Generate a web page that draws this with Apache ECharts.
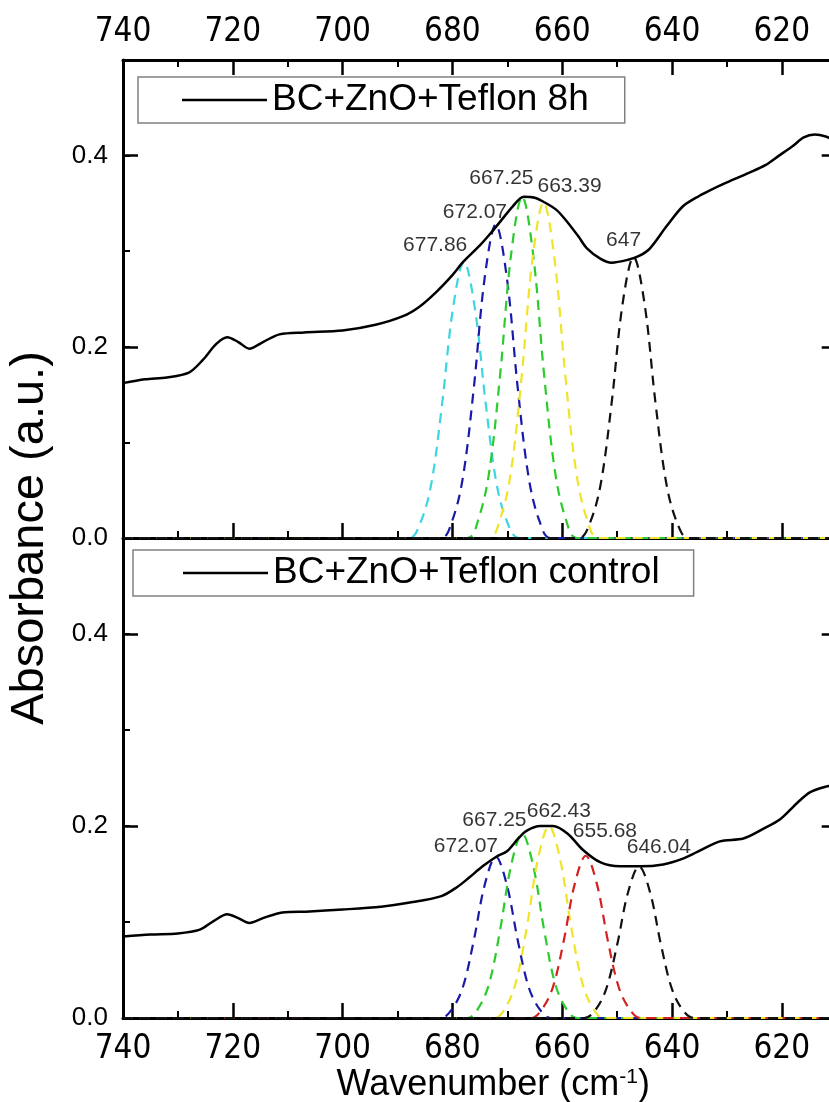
<!DOCTYPE html>
<html>
<head>
<meta charset="utf-8">
<script src="https://cdn.jsdelivr.net/npm/echarts@6/dist/echarts.min.js"></script>
<style>
  html, body { margin: 0; padding: 0; overflow: hidden; background: #fff; }
  #chart { width: 900px; height: 1102px; }
</style>
</head>
<body>
<div id="chart"></div>
<script>
// measured spectra [wavenumber, absorbance]
const spectrum8h = [
  [740,0.162],[736,0.166],[732,0.168],[728,0.173],[725.5,0.186],[723,0.203],[721,0.210],[719,0.205],
  [717,0.198],[714.5,0.205],[711.5,0.213],[707,0.215],[700,0.217],[694,0.223],[689,0.232],[686,0.242],
  [683,0.257],[680,0.275],[678,0.289],[675,0.306],[673,0.319],[671,0.333],[669,0.347],[667,0.357],
  [665,0.356],[663.5,0.352],[661,0.343],[659,0.330],[657,0.315],[655.5,0.303],[653,0.292],[651,0.288],
  [648,0.291],[646,0.295],[644,0.303],[641,0.326],[638,0.347],[635,0.358],[633,0.364],[630,0.372],
  [626,0.382],[623,0.390],[620.5,0.400],[618,0.410],[616,0.419],[614,0.422],[612,0.420],[610,0.415]
];
const spectrumControl = [
  [740,0.085],[735,0.087],[730,0.088],[726,0.092],[723.5,0.101],[721,0.108],[719,0.104],[717,0.099],
  [714.5,0.104],[711,0.110],[706,0.111],[700,0.113],[693,0.116],[688,0.120],[682,0.127],[679,0.137],
  [677,0.146],[674.5,0.158],[672,0.168],[670,0.174],[668,0.187],[666.5,0.195],[664,0.200],[661.7,0.200],
  [659,0.192],[656.2,0.175],[653,0.162],[649.5,0.158],[645.8,0.158],[641.6,0.160],[638,0.166],[635.4,0.173],
  [631.3,0.184],[627,0.187],[623.4,0.197],[620.3,0.207],[617.2,0.224],[614.9,0.235],[612,0.241],[610,0.243]
];

// fitted component bands (8h)
const fit8h_677 = [[740,0],[687.9,0],[685.9,0.015],[683.9,0.055],[681.9,0.139],[679.9,0.240],[677.9,0.289],
  [675.9,0.240],[673.9,0.139],[671.9,0.055],[669.9,0.015],[667.9,0],[610,0]];
const fit8h_672 = [[740,0],[682.1,0],[680.1,0.017],[678.1,0.063],[676.1,0.157],[674.1,0.273],[672.1,0.328],
  [670.1,0.273],[668.1,0.157],[666.1,0.063],[664.1,0.017],[662.1,0],[610,0]];
const fit8h_667 = [[740,0],[677.3,0],[675.3,0.019],[673.3,0.069],[671.3,0.171],[669.3,0.297],[667.3,0.357],
  [665.3,0.297],[663.3,0.171],[661.3,0.069],[659.3,0.019],[657.3,0],[610,0]];
const fit8h_663 = [[740,0],[673.4,0],[671.4,0.018],[669.4,0.067],[667.4,0.168],[665.4,0.292],[663.4,0.351],
  [661.4,0.292],[659.4,0.168],[657.4,0.067],[655.4,0.018],[653.4,0],[610,0]];
const fit8h_647 = [[740,0],[657,0],[655,0.015],[653,0.056],[651,0.141],[649,0.245],[647,0.294],
  [645,0.245],[643,0.141],[641,0.056],[639,0.015],[637,0],[610,0]];

// fitted component bands (control)
const fitCtl_672 = [[740,0],[682.1,0],[680.1,0.009],[678.1,0.032],[676.1,0.081],[674.1,0.139],[672.1,0.168],
  [670.1,0.139],[668.1,0.081],[666.1,0.032],[664.1,0.009],[662.1,0],[610,0]];
const fitCtl_667 = [[740,0],[677.3,0],[675.3,0.010],[673.3,0.036],[671.3,0.092],[669.3,0.159],[667.3,0.192],
  [665.3,0.159],[663.3,0.092],[661.3,0.036],[659.3,0.010],[657.3,0],[610,0]];
const fitCtl_662 = [[740,0],[672.4,0],[670.4,0.010],[668.4,0.038],[666.4,0.096],[664.4,0.166],[662.4,0.200],
  [660.4,0.166],[658.4,0.096],[656.4,0.038],[654.4,0.010],[652.4,0],[610,0]];
const fitCtl_655 = [[740,0],[665.7,0],[663.7,0.009],[661.7,0.032],[659.7,0.081],[657.7,0.140],[655.7,0.169],
  [653.7,0.140],[651.7,0.081],[649.7,0.032],[647.7,0.009],[645.7,0],[610,0]];
const fitCtl_646 = [[740,0],[656,0],[654,0.008],[652,0.030],[650,0.076],[648,0.131],[646,0.158],
  [644,0.131],[642,0.076],[640,0.030],[638,0.008],[636,0],[610,0]];

// peak annotations
const peaks8h = [677.86, 672.07, 667.25, 663.39, 647];
const heights8h = [0.289, 0.328, 0.357, 0.351, 0.294];
const labels8h = ['677.86', '672.07', '667.25', '663.39', '647'];
const peaksCtl = [672.07, 667.25, 662.43, 655.68, 646.04];
const heightsCtl = [0.168, 0.192, 0.200, 0.169, 0.158];
const labelsCtl = ['672.07', '667.25', '662.43', '655.68', '646.04'];

const FONT = "'Liberation Sans', Arial, sans-serif";
const NARROW = "'Liberation Sans Narrow', 'Arial Narrow', 'DejaVu Sans Condensed', sans-serif";
const C = { cyan: '#3cd6e0', blue: '#1a1aa8', green: '#2ccc2c', yellow: '#f0e428', red: '#d42020', black: '#111' };

// label offsets (px) relative to each peak top
const offsets8h = [[-29, -17], [-21, -12], [-21, -19], [26, -16], [-10, -17]];
const offsetsCtl = [[-30, -11], [-28, -13], [10, -15], [19, -25], [20, -19]];

const chart = echarts.init(document.getElementById('chart'));

function xAxis(gridIndex, position, showLabel) {
  return {
    type: 'value', gridIndex, position, min: 600, max: 740, interval: 20, inverse: true,
    axisLine: { show: true, onZero: false, lineStyle: { color: '#000', width: 3 } },
    axisTick: { show: true, inside: true, length: 15, lineStyle: { color: '#000', width: 2.5 } },
    minorTick: { show: true, splitNumber: 2, length: 7, lineStyle: { color: '#000', width: 2 } },
    axisLabel: { show: showLabel, margin: position === 'top' ? 11 : 15, fontSize: 33, fontFamily: NARROW, color: '#000' },
    splitLine: { show: false }
  };
}

function yAxis(gridIndex, position, showLabel, minor) {
  return {
    type: 'value', gridIndex, position, min: 0, max: 0.5,
    interval: minor ? 0.1 : 0.2,
    offset: position === 'right' ? -54.9 : 0,
    axisLine: { show: !minor, onZero: false, lineStyle: { color: '#000', width: 3 } },
    axisTick: { show: true, inside: true, length: minor ? 7 : 15, lineStyle: { color: '#000', width: minor ? 2 : 2.5 } },
    axisLabel: {
      show: showLabel, showMaxLabel: false, margin: 15, fontSize: 26, fontFamily: FONT, color: '#000',
      formatter: v => v.toFixed(1)
    },
    splitLine: { show: false }
  };
}

function fit(data, color, xi, yi) {
  return {
    type: 'line', xAxisIndex: xi, yAxisIndex: yi, data, symbol: 'none', smooth: 0.35, silent: true, z: 2,
    lineStyle: { color, width: 2.2, type: [10, 7] }
  };
}

function peakLabels(centers, heights, texts, offs, xi, yi) {
  return {
    type: 'scatter', xAxisIndex: xi, yAxisIndex: yi, symbolSize: 0, silent: true, z: 10,
    itemStyle: { color: '#000' },
    data: centers.map((c, i) => ({ value: [c, heights[i]], label: { offset: offs[i] } })),
    label: {
      show: true, position: 'inside', fontSize: 21, fontFamily: FONT, color: '#000',
      textBorderWidth: 0, textShadowBlur: 0,
      formatter: p => texts[p.dataIndex]
    }
  };
}

const legendBase = {
  icon: 'rect', itemWidth: 85, itemHeight: 2.5, itemGap: 0, selectedMode: false,
  borderColor: '#808080', borderWidth: 1.5, backgroundColor: '#fff',
  textStyle: { fontSize: 37, lineHeight: 36, fontFamily: FONT, color: '#000' }
};

const option = {
  backgroundColor: '#fff',
  animation: false,
  grid: [
    { left: 123, top: 60, width: 768.6, height: 478, outerBoundsMode: 'none', containLabel: false },
    { left: 123, top: 538, width: 768.6, height: 480, outerBoundsMode: 'none', containLabel: false }
  ],
  legend: [
    Object.assign({}, legendBase, { data: ['BC+ZnO+Teflon 8h'], left: 138, top: 77, padding: [4.5, 36, 4.5, 44] }),
    Object.assign({}, legendBase, { data: ['BC+ZnO+Teflon control'], left: 133, top: 550, padding: [4.5, 34, 4.5, 50] })
  ],
  xAxis: [
    xAxis(0, 'top', true),
    xAxis(0, 'bottom', false),
    Object.assign(xAxis(1, 'bottom', true), {
      name: 'Wavenumber (cm{sup|-1})',
      nameLocation: 'middle', nameGap: 49,
      nameTextStyle: {
        fontSize: 36, fontFamily: FONT, color: '#000', padding: [0, 28, 0, 0], verticalAlign: 'top',
        rich: { sup: { fontSize: 21, fontFamily: FONT, color: '#000', verticalAlign: 'top', padding: [0, 0, 15, 0] } }
      }
    })
  ],
  yAxis: [
    yAxis(0, 'left', true, false), yAxis(0, 'left', false, true),
    yAxis(0, 'right', false, false), yAxis(0, 'right', false, true),
    yAxis(1, 'left', true, false), yAxis(1, 'left', false, true),
    yAxis(1, 'right', false, false), yAxis(1, 'right', false, true)
  ],
  graphic: [{
    type: 'text', x: 30, y: 538, rotation: Math.PI / 2,
    style: { text: 'Absorbance (a.u.)', fontSize: 47, fontFamily: FONT, fill: '#000', align: 'center', verticalAlign: 'middle' }
  }],
  series: [
    fit(fit8h_677, C.cyan, 1, 0),
    fit(fit8h_672, C.blue, 1, 0),
    fit(fit8h_667, C.green, 1, 0),
    fit(fit8h_663, C.yellow, 1, 0),
    fit(fit8h_647, C.black, 1, 0),
    {
      name: 'BC+ZnO+Teflon 8h', type: 'line', xAxisIndex: 1, yAxisIndex: 0, data: spectrum8h,
      symbol: 'none', smooth: 0.3, z: 5, lineStyle: { color: '#000', width: 2.5 }, itemStyle: { color: '#000' }
    },
    peakLabels(peaks8h, heights8h, labels8h, offsets8h, 1, 0),

    fit(fitCtl_672, C.blue, 2, 4),
    fit(fitCtl_667, C.green, 2, 4),
    fit(fitCtl_662, C.yellow, 2, 4),
    fit(fitCtl_655, C.red, 2, 4),
    fit(fitCtl_646, C.black, 2, 4),
    {
      name: 'BC+ZnO+Teflon control', type: 'line', xAxisIndex: 2, yAxisIndex: 4, data: spectrumControl,
      symbol: 'none', smooth: 0.3, z: 5, lineStyle: { color: '#000', width: 2.5 }, itemStyle: { color: '#000' }
    },
    peakLabels(peaksCtl, heightsCtl, labelsCtl, offsetsCtl, 2, 4)
  ]
};

chart.setOption(option);
</script>
</body>
</html>
